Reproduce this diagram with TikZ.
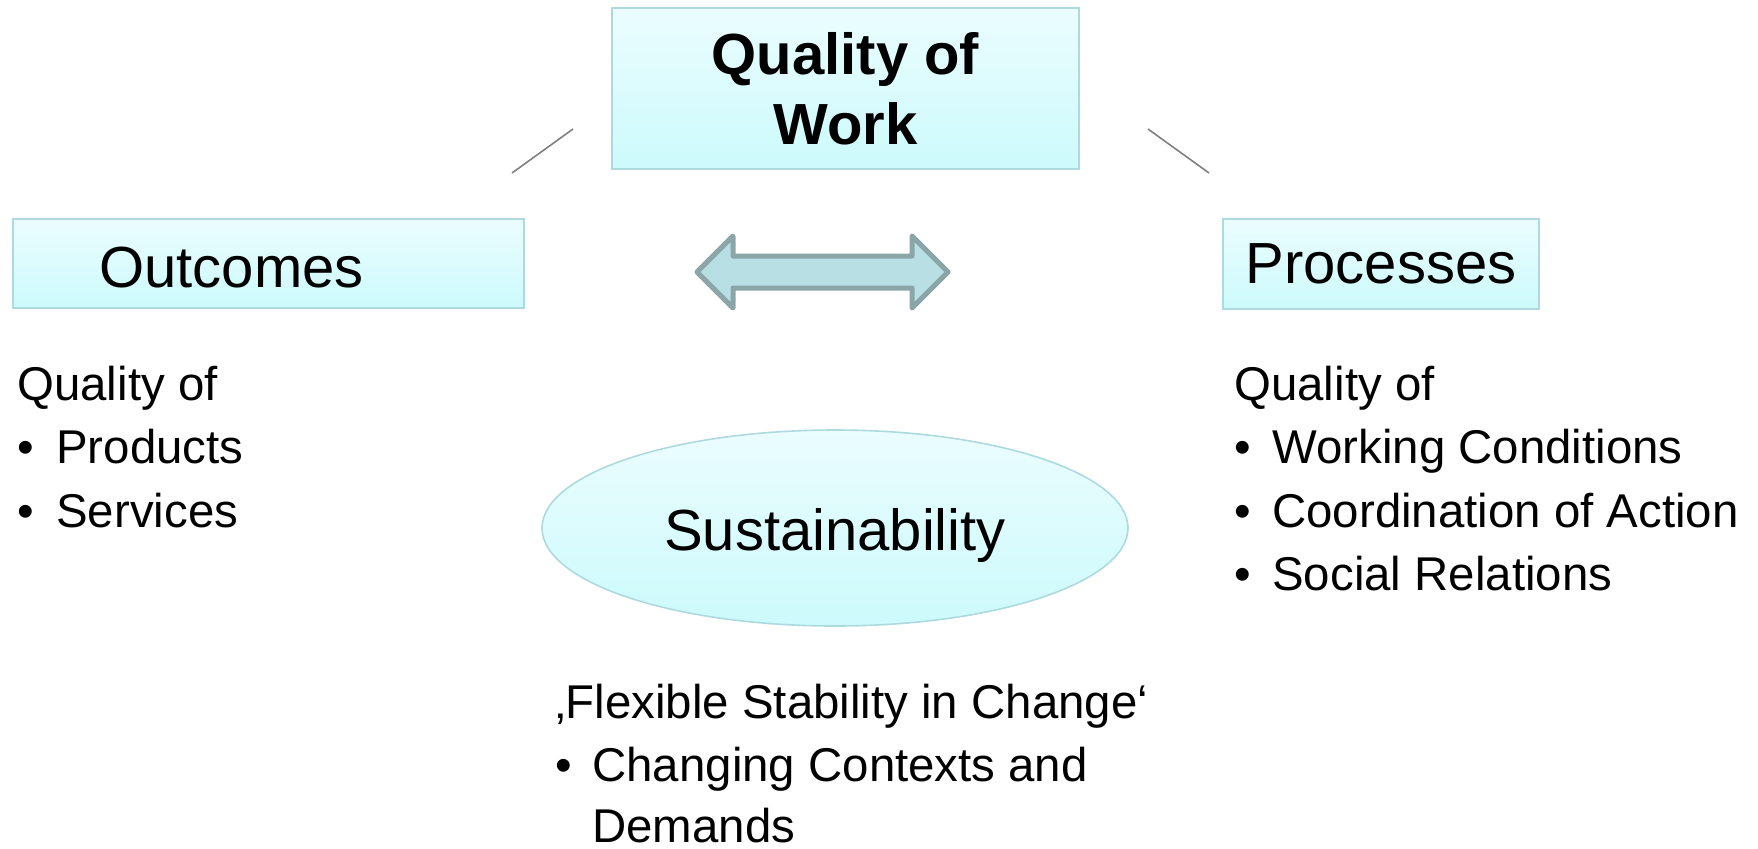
\documentclass[tikz,border=0pt]{standalone}
\usepackage{fontspec}
\setmainfont{Liberation Sans}
\usetikzlibrary{shapes.geometric}
\definecolor{boxtop}{HTML}{EBFDFE}
\definecolor{boxbot}{HTML}{CCFAFC}
\definecolor{boxline}{HTML}{AEDADF}
\definecolor{arrfill}{HTML}{B8DFE3}
\definecolor{arrline}{HTML}{8BA6A8}
\definecolor{conn}{HTML}{808080}
\tikzset{
  cbox/.style={draw=boxline, line width=0.8pt, top color=boxtop, bottom color=boxbot, inner sep=0pt},
  headfont/.style={font=\fontsize{29}{35}\selectfont},
  bodyline/.style={anchor=base west, inner sep=0pt, font=\fontsize{23.7}{31.75}\selectfont},
  connline/.style={draw=conn, line width=0.8pt},
}
\newcommand{\bul}[1]{\makebox[#1][l]{•}}
\begin{document}
\begin{tikzpicture}[x=0.5pt,y=-0.5pt]
\useasboundingbox (0,0) rectangle (1758,848);
% top box
\node[cbox, headfont, font=\bfseries\fontsize{29}{35}\selectfont, align=center,
      minimum width=233.5pt, minimum height=80.5pt] (qow) at (845.5,88.5) {Quality of\\Work};
% side boxes
\node[cbox, minimum width=255.5pt, minimum height=44.5pt] (outbox) at (268.5,263.5) {};
\node[headfont, anchor=base west, inner sep=0pt] (outtxt) at (99,287) {Outcomes};
\node[cbox, headfont, minimum width=158pt, minimum height=45pt] (proc) at (1381,264) {Processes};
% connector lines
\coordinate (l1) at (512,173); \coordinate (l2) at (573,129);
\coordinate (r1) at (1148,129); \coordinate (r2) at (1209,173);
\draw[connline] (l1) -- (l2);
\draw[connline] (r1) -- (r2);
% double arrow
\draw[fill=arrfill, draw=arrline, line width=2.5pt, line join=round]
  (697,272) -- (733,236) -- (733,256) -- (912,256) -- (912,236) -- (948,272)
  -- (912,308) -- (912,288) -- (733,288) -- (733,308) -- cycle;
% ellipse
\node[ellipse, cbox, minimum width=293pt, minimum height=98pt] (sust) at (835,528) {};
\node[headfont, anchor=base, inner sep=0pt] (susttxt) at (835,550) {Sustainability};
% left list
\node[bodyline] (lq) at (17,400) {Quality of};
\node[bodyline] (lp) at (17,463.5) {\bul{19.5pt}Products};
\node[bodyline] (ls) at (17,527) {\bul{19.5pt}Services};
% right list
\node[bodyline] (rq) at (1234,400) {Quality of};
\node[bodyline] (rw) at (1234,463.5) {\bul{19pt}Working Conditions};
\node[bodyline] (rc) at (1234,527) {\bul{19pt}Coordination of Action};
\node[bodyline] (rs) at (1234,590.5) {\bul{19pt}Social Relations};
% bottom list
\node[bodyline] (bf) at (555,718) {‚Flexible Stability in Change‘};
\node[bodyline] (bc) at (555,781) {\bul{18.5pt}Changing Contexts and};
\node[bodyline] (bd) at (555,842) {\hspace*{18.5pt}Demands};
\end{tikzpicture}
\end{document}
